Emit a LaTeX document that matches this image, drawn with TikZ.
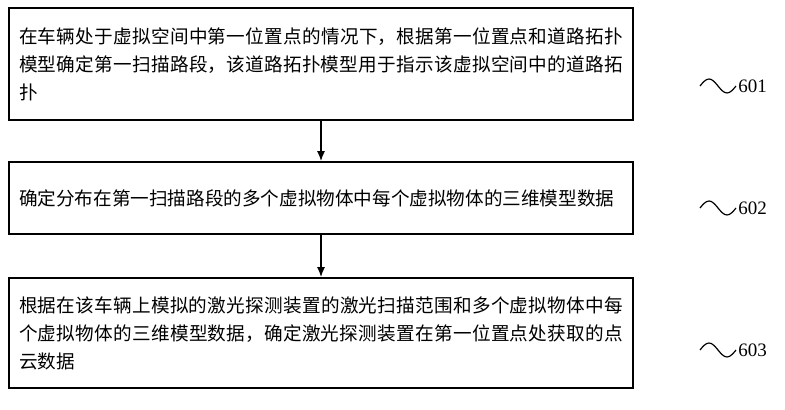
\documentclass[tikz,border=0pt]{standalone}
\usepackage{fontspec}
\setmainfont{Liberation Serif}
\newfontfamily\cjk{Noto Sans CJK SC}
\XeTeXlinebreaklocale "zh"
\XeTeXlinebreakskip=0pt plus 1pt
\usetikzlibrary{arrows.meta}
\begin{document}
\begin{tikzpicture}[x=0.5pt,y=-0.5pt,
    stepbox/.style={draw,thick,text width=302pt,align=justify,inner sep=5pt,font=\cjk\fontsize{9.3}{14}\selectfont},
    flow/.style={thick,-{Latex[length=5pt,width=4pt]}},
    wave/.style={semithick}]
    \useasboundingbox (0,0) rectangle (785,410);

    \node[stepbox,minimum height=56pt] (s1) at (321,64)
        {在车辆处于虚拟空间中第一位置点的情况下，根据第一位置点和道路拓扑模型确定第一扫描路段，该道路拓扑模型用于指示该虚拟空间中的道路拓扑};
    \node[stepbox,minimum height=36pt] (s2) at (321,198)
        {确定分布在第一扫描路段的多个虚拟物体中每个虚拟物体的三维模型数据};
    \node[stepbox,minimum height=55pt] (s3) at (321,333)
        {根据在该车辆上模拟的激光探测装置的激光扫描范围和多个虚拟物体中每个虚拟物体的三维模型数据，确定激光探测装置在第一位置点处获取的点云数据};

    \draw[flow] (s1) -- (s2);
    \draw[flow] (s2) -- (s3);

    % step labels
    \foreach \y/\lbl in {88/601, 210/602, 352/603} {
        \draw[wave] (700,\y-2) sin (709,\y-9) cos (718,\y-2) sin (727,\y+5) cos (736,\y-2);
        \node[anchor=west,inner sep=1pt,font=\fontsize{9.5}{10}\selectfont] (l\lbl) at (736,\y-2) {\lbl};
    }
\end{tikzpicture}
\end{document}
